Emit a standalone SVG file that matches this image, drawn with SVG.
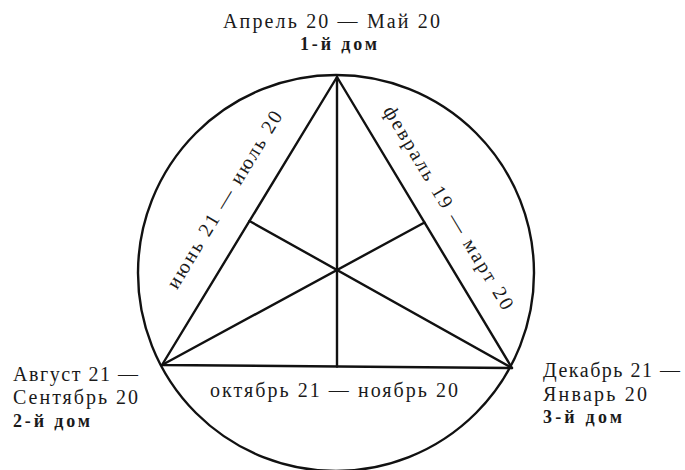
<svg xmlns="http://www.w3.org/2000/svg" width="685" height="470" viewBox="0 0 685 470">
<style>
.ln{fill:none;stroke:#111;stroke-width:2.4;stroke-linecap:round;stroke-linejoin:round}
.t{font-family:"Liberation Serif","Times New Roman",serif;font-size:20px;fill:#1a1a1a}
.b{font-family:"Liberation Serif","Times New Roman",serif;font-size:18px;font-weight:bold;fill:#1a1a1a}
</style>
<rect width="685" height="470" fill="#fff"/>
<g id="circle">
<circle class="ln" cx="336" cy="273" r="198"/>
</g>
<g id="connectors">
<polygon class="ln" points="337,77 162,365 512,368"/>
<line class="ln" x1="337" y1="77" x2="337" y2="366.5"/>
<line class="ln" x1="162" y1="365" x2="424.5" y2="222.5"/>
<line class="ln" x1="512" y1="368" x2="249.5" y2="221"/>
</g>
<g id="node-top">
<text class="t" x="223" y="28" textLength="217" lengthAdjust="spacing">Апрель 20 — Май 20</text>
<text class="b" x="300" y="50" textLength="77" lengthAdjust="spacing">1-й дом</text>
</g>
<g id="node-left">
<text class="t" x="13" y="381" textLength="125" lengthAdjust="spacing">Август 21 —</text>
<text class="t" x="13" y="404" textLength="125" lengthAdjust="spacing">Сентябрь 20</text>
<text class="b" x="13" y="427" textLength="77" lengthAdjust="spacing">2-й дом</text>
</g>
<g id="node-right">
<text class="t" x="543" y="377" textLength="137" lengthAdjust="spacing">Декабрь 21 —</text>
<text class="t" x="543" y="401" textLength="104" lengthAdjust="spacing">Январь 20</text>
<text class="b" x="543" y="423" textLength="79" lengthAdjust="spacing">3-й дом</text>
</g>
<g id="edge-labels">
<text class="t" x="210" y="397" textLength="248" lengthAdjust="spacing">октябрь 21 — ноябрь 20</text>
<text class="t" text-anchor="middle" transform="translate(230,203) rotate(-58.7)" textLength="204" lengthAdjust="spacing">июнь 21 — июль 20</text>
<text class="t" text-anchor="middle" transform="translate(443,211) rotate(59)" textLength="234" lengthAdjust="spacing">февраль 19 — март 20</text>
</g>
</svg>
